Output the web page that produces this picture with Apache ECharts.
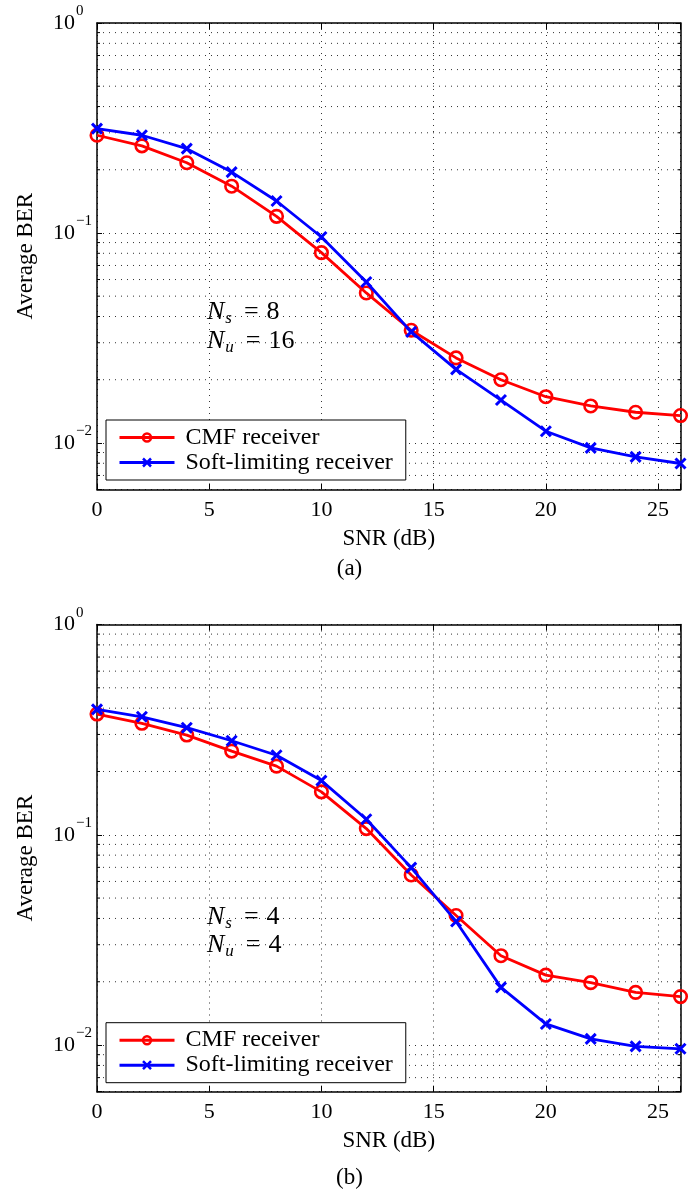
<!DOCTYPE html>
<html>
<head>
<meta charset="utf-8">
<script src="https://cdn.jsdelivr.net/npm/echarts@6/dist/echarts.min.js"></script>
<style>
html,body{margin:0;padding:0;background:#fff;}
#chart{width:699px;height:1190px;}
</style>
</head>
<body>
<div id="chart"></div>
<script>
// ---- data ----
const snr = [0, 2, 4, 6, 8, 10, 12, 14, 16, 18, 20, 22, 24, 26];
const cmfA  = [0.292, 0.260, 0.216, 0.167, 0.120, 0.0806, 0.0518, 0.0344, 0.0254, 0.0200, 0.0166, 0.0150, 0.0140, 0.0135];
const softA = [0.314, 0.292, 0.252, 0.195, 0.142, 0.0957, 0.0584, 0.0338, 0.0224, 0.0160, 0.01137, 0.00947, 0.00858, 0.00798];
const cmfB  = [0.375, 0.339, 0.298, 0.250, 0.212, 0.160, 0.107, 0.0644, 0.0413, 0.0266, 0.0215, 0.0198, 0.0178, 0.0170];
const softB = [0.395, 0.364, 0.323, 0.280, 0.239, 0.181, 0.1185, 0.0698, 0.0387, 0.0188, 0.0126, 0.0107, 0.00985, 0.0096];
const seriesNames = ['CMF receiver', 'Soft-limiting receiver'];
const xTicks = [0, 5, 10, 15, 20, 25];
const yMin = 0.006, yMax = 1;
const minorTickValues = [0.007, 0.008, 0.009,
  0.02, 0.03, 0.04, 0.05, 0.06, 0.07, 0.08, 0.09,
  0.2, 0.3, 0.4, 0.5, 0.6, 0.7, 0.8, 0.9];
const annotA = ['8', '16'];
const annotB = ['4', '4'];

const FONT = 'Liberation Serif';
const RED = '#ff0000', BLUE = '#0000ff';

function isDecade(v) {
  const l = Math.log10(v);
  return Math.abs(l - Math.round(l)) < 1e-6;
}
function yLabel(v) {
  if (!isDecade(v)) return '';
  const e = Math.round(Math.log10(v));
  return '{b|10}{s|' + (e < 0 ? '\u2212' + (-e) : e) + '}';
}

const grids = [
  {left: 97, top: 23, width: 583.5, height: 466.5},
  {left: 97, top: 624.5, width: 583.5, height: 467.2}
];

const xAxes = [], yAxes = [], series = [], legends = [], graphics = [];

grids.forEach((g, gi) => {
  xAxes.push({
    type: 'value', gridIndex: gi, min: 0, max: 26, interval: 5, position: 'bottom',
    name: 'SNR (dB)', nameLocation: 'middle', nameGap: 38,
    nameTextStyle: {fontFamily: FONT, fontSize: 23, color: '#000'},
    axisLine: {show: true, onZero: false, lineStyle: {color: '#000', width: 1.5}},
    axisTick: {show: true, inside: true, length: 6, lineStyle: {color: '#000', width: 1}},
    axisLabel: {show: true, margin: 10, fontFamily: FONT, fontSize: 22, color: '#000',
      formatter: v => (xTicks.indexOf(v) >= 0 ? String(v) : '')},
    splitLine: {show: true, lineStyle: {color: '#333', width: 1, type: [1, 5]}}
  });
  xAxes.push({
    type: 'value', gridIndex: gi, min: 0, max: 26, interval: 5, position: 'top',
    axisLine: {show: true, onZero: false, lineStyle: {color: '#000', width: 1.5}},
    axisTick: {show: true, inside: true, length: 6, lineStyle: {color: '#000', width: 1}},
    axisLabel: {show: false}, splitLine: {show: false}
  });
  yAxes.push({
    type: 'log', logBase: 10, gridIndex: gi, min: yMin, max: yMax, position: 'left',
    name: 'Average BER', nameLocation: 'middle', nameGap: 60, nameRotate: 90,
    nameTextStyle: {fontFamily: FONT, fontSize: 23, color: '#000'},
    axisLine: {show: true, onZero: false, lineStyle: {color: '#000', width: 1.5}},
    axisTick: {show: true, inside: true, length: 5, lineStyle: {color: '#000', width: 1}},
    axisLabel: {show: true, margin: 44, align: 'left', formatter: yLabel,
      rich: {
        b: {fontFamily: FONT, fontSize: 22, color: '#000', lineHeight: 22},
        s: {fontFamily: FONT, fontSize: 15, color: '#000', lineHeight: 15, padding: [0, 0, 23, 1]}
      }},
    splitLine: {show: true, lineStyle: {color: '#333', width: 1, type: [1, 5]}}
  });
  yAxes.push({
    type: 'log', logBase: 10, gridIndex: gi, min: yMin, max: yMax, position: 'right',
    axisLine: {show: true, onZero: false, lineStyle: {color: '#000', width: 1.5}},
    axisTick: {show: true, inside: true, length: 5, lineStyle: {color: '#000', width: 1}},
    axisLabel: {show: false}, splitLine: {show: false}
  });

  const xi = gi * 2, yi = gi * 2;
  series.push({
    type: 'custom', xAxisIndex: xi, yAxisIndex: yi, silent: true, z: 1,
    data: minorTickValues.map(v => [0, v]),
    renderItem: function (params, api) {
      const v = api.value(1);
      const cs = params.coordSys;
      const y = api.coord([0, v])[1];
      const x0 = cs.x, x1 = cs.x + cs.width;
      return {type: 'group', children: [
        {type: 'line', shape: {x1: x0, y1: y, x2: x1, y2: y},
          style: {stroke: '#333', lineWidth: 1, lineDash: [1, 5]}},
        {type: 'line', shape: {x1: x0, y1: y, x2: x0 + 3, y2: y}, style: {stroke: '#000', lineWidth: 1}},
        {type: 'line', shape: {x1: x1 - 3, y1: y, x2: x1, y2: y}, style: {stroke: '#000', lineWidth: 1}}
      ]};
    }
  });

  const cmf = gi === 0 ? cmfA : cmfB;
  const soft = gi === 0 ? softA : softB;
  series.push({
    name: seriesNames[0], type: 'line', xAxisIndex: xi, yAxisIndex: yi, z: 3,
    data: snr.map((x, i) => [x, cmf[i]]),
    symbol: 'circle', symbolSize: 12.5, showAllSymbol: true,
    lineStyle: {color: RED, width: 2.8},
    itemStyle: {color: 'rgba(255,255,255,0)', borderColor: RED, borderWidth: 2.6},
    emphasis: {disabled: true}, animation: false
  });
  series.push({
    name: seriesNames[1], type: 'line', xAxisIndex: xi, yAxisIndex: yi, z: 4,
    data: snr.map((x, i) => [x, soft[i]]),
    symbol: 'path://M0 0L10 10M10 0L0 10', symbolSize: 10, showAllSymbol: true,
    lineStyle: {color: BLUE, width: 2.8},
    itemStyle: {color: 'rgba(255,255,255,0)', borderColor: BLUE, borderWidth: 3},
    emphasis: {disabled: true}, animation: false
  });

  legends.push({
    data: seriesNames, orient: 'vertical', left: 106, top: gi === 0 ? 420 : 1022.7,
    backgroundColor: '#fff', borderColor: '#000', borderWidth: 1,
    padding: [5, 13, 5, 12], itemGap: 0, itemWidth: 55, itemHeight: 10,
    selectedMode: false,
    lineStyle: {width: 3},
    itemStyle: {borderWidth: 2.5},
    textStyle: {fontFamily: FONT, fontSize: 24, color: '#000', lineHeight: 25, padding: [0, 0, 0, 6]}
  });

  const ann = gi === 0 ? annotA : annotB;
  const yc = gi === 0 ? [313, 342] : [918, 945.7];
  ['s', 'u'].forEach((sub, k) => {
    graphics.push({
      type: 'text', left: 207, top: yc[k] - 15, z: 10,
      style: {
        text: '{n|N}{s|' + sub + '}{e|=}{v|' + ann[k] + '}',
        rich: {
          n: {fontFamily: FONT, fontStyle: 'italic', fontSize: 26, color: '#000', lineHeight: 30},
          s: {fontFamily: FONT, fontStyle: 'italic', fontSize: 17, color: '#000', lineHeight: 17, padding: [12, 0, 0, 1]},
          e: {fontFamily: FONT, fontSize: 26, color: '#000', lineHeight: 30, padding: [0, 8, 0, 12]},
          v: {fontFamily: FONT, fontSize: 26, color: '#000', lineHeight: 30}
        }
      }
    });
  });
});

graphics.push({type: 'text', left: 'center', top: 557, style: {text: '(a)', fontFamily: FONT, fontSize: 23, fill: '#000'}});
graphics.push({type: 'text', left: 'center', top: 1166, style: {text: '(b)', fontFamily: FONT, fontSize: 23, fill: '#000'}});

const chart = echarts.init(document.getElementById('chart'), null, {renderer: 'canvas'});
chart.setOption({
  animation: false,
  backgroundColor: '#fff',
  textStyle: {fontFamily: FONT},
  grid: grids,
  xAxis: xAxes,
  yAxis: yAxes,
  legend: legends,
  series: series,
  graphic: graphics
});
</script>
</body>
</html>
